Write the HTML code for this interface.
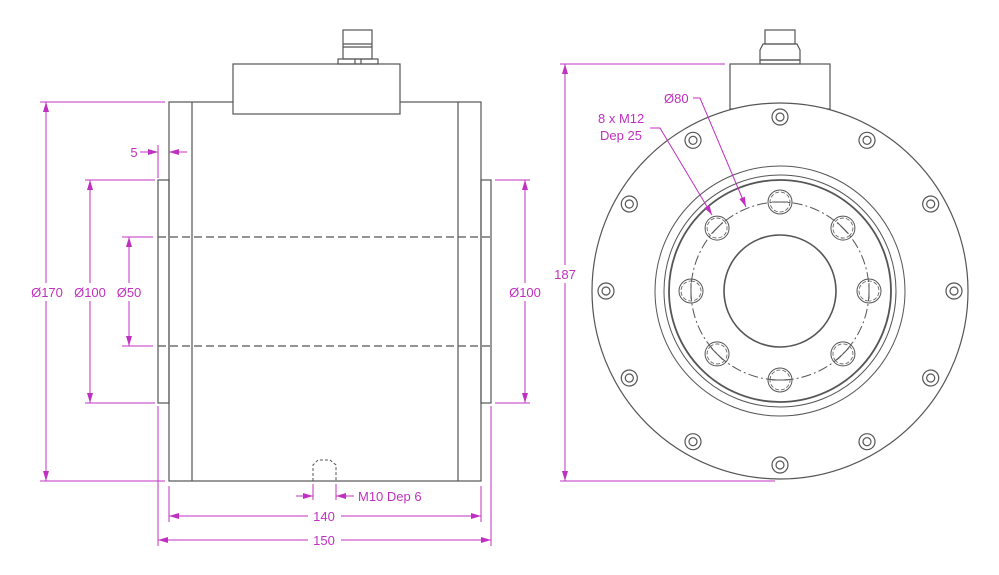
<!DOCTYPE html>
<html><head><style>
html,body{margin:0;padding:0;background:#fff;width:999px;height:575px;overflow:hidden}
text{font-family:"Liberation Sans",sans-serif;font-size:13px;fill:#c030c0}
</style></head><body>
<svg width="999" height="575" viewBox="0 0 999 575" xmlns="http://www.w3.org/2000/svg">
<defs>
<marker id="a" viewBox="0 0 10 6" refX="10" refY="3" markerWidth="10" markerHeight="6" orient="auto-start-reverse" markerUnits="userSpaceOnUse"><path d="M0,0L10,3L0,6z" fill="#c030c0"/></marker>
</defs>
<g fill="none" stroke="#555" stroke-width="1.2">
<rect x="169" y="102" width="312" height="379"/>
<line x1="192" y1="102" x2="192" y2="481"/>
<line x1="458" y1="102" x2="458" y2="481"/>
<rect x="233" y="64" width="167" height="50" fill="#fff"/>
<rect x="343" y="30" width="29" height="29"/>
<line x1="343" y1="44" x2="372" y2="44"/><line x1="343" y1="47" x2="372" y2="47"/>
<rect x="338" y="59" width="40" height="5"/>
<line x1="355" y1="59" x2="355" y2="64"/><line x1="361" y1="59" x2="361" y2="64"/>
<rect x="158" y="180" width="11" height="223"/>
<rect x="481" y="180" width="10" height="223"/>
<line x1="158" y1="237" x2="491" y2="237" stroke-dasharray="8,4"/>
<line x1="158" y1="346" x2="491" y2="346" stroke-dasharray="8,4"/>
<path d="M313,481V465L318,460H330L336,465V481" stroke-dasharray="3,2" stroke-width="1"/>
<rect x="730" y="64" width="100" height="45" fill="#fff"/>
<rect x="765" y="30" width="30" height="14"/>
<path d="M763,44H797L800,50V60H760V50Z"/>
<rect x="760" y="60" width="40" height="4"/>
<circle cx="780" cy="291" r="188" fill="#fff"/>
<circle cx="780" cy="291" r="125" stroke-width="1"/>
<circle cx="780" cy="291" r="116" stroke-width="1"/>
<circle cx="780" cy="291" r="111" stroke-width="1.8"/>
<circle cx="780" cy="291" r="56" stroke-width="1.6"/>
<circle cx="780" cy="291" r="89" stroke-width="1" stroke-dasharray="10,3,2,3"/>
<g id="oh">
<circle cx="780" cy="117" r="8"/><circle cx="780" cy="117" r="4"/>
</g>
<use href="#oh" transform="rotate(30 780 291)"/><use href="#oh" transform="rotate(60 780 291)"/>
<use href="#oh" transform="rotate(90 780 291)"/><use href="#oh" transform="rotate(120 780 291)"/>
<use href="#oh" transform="rotate(150 780 291)"/><use href="#oh" transform="rotate(180 780 291)"/>
<use href="#oh" transform="rotate(210 780 291)"/><use href="#oh" transform="rotate(240 780 291)"/>
<use href="#oh" transform="rotate(270 780 291)"/><use href="#oh" transform="rotate(300 780 291)"/>
<use href="#oh" transform="rotate(330 780 291)"/>
<g id="ih"><circle cx="780" cy="202" r="12" stroke-width="1"/><circle cx="780" cy="202" r="10" stroke-width="0.8" stroke-dasharray="4,2"/><line x1="772" y1="202" x2="788" y2="202" stroke-width="1"/></g>
<use href="#ih" transform="rotate(45 780 291)"/><use href="#ih" transform="rotate(90 780 291)"/>
<use href="#ih" transform="rotate(135 780 291)"/><use href="#ih" transform="rotate(180 780 291)"/>
<use href="#ih" transform="rotate(225 780 291)"/><use href="#ih" transform="rotate(270 780 291)"/>
<use href="#ih" transform="rotate(315 780 291)"/>
</g>
<g stroke="#c030c0" stroke-width="1" fill="none">
<line x1="40" y1="102" x2="165" y2="102"/><line x1="40" y1="481" x2="165" y2="481"/>
<line x1="85" y1="180" x2="155" y2="180"/><line x1="85" y1="403" x2="155" y2="403"/>
<line x1="122" y1="237" x2="153" y2="237"/><line x1="122" y1="346" x2="153" y2="346"/>
<line x1="46" y1="102" x2="46" y2="283" marker-start="url(#a)"/><line x1="46" y1="301" x2="46" y2="481" marker-end="url(#a)"/>
<line x1="90" y1="180" x2="90" y2="283" marker-start="url(#a)"/><line x1="90" y1="301" x2="90" y2="403" marker-end="url(#a)"/>
<line x1="129" y1="237" x2="129" y2="283" marker-start="url(#a)"/><line x1="129" y1="301" x2="129" y2="346" marker-end="url(#a)"/>
<line x1="158" y1="145" x2="158" y2="178"/>
<line x1="140" y1="152" x2="158" y2="152" marker-end="url(#a)"/>
<line x1="187" y1="152" x2="169" y2="152" marker-end="url(#a)"/>
<line x1="495" y1="180" x2="530" y2="180"/><line x1="495" y1="403" x2="530" y2="403"/>
<line x1="525" y1="180" x2="525" y2="283" marker-start="url(#a)"/><line x1="525" y1="301" x2="525" y2="403" marker-end="url(#a)"/>
<line x1="169" y1="486" x2="169" y2="522"/><line x1="481" y1="486" x2="481" y2="522"/>
<line x1="158" y1="406" x2="158" y2="546"/><line x1="491" y1="406" x2="491" y2="546"/>
<line x1="313" y1="484" x2="313" y2="500"/><line x1="336" y1="484" x2="336" y2="500"/>
<line x1="296" y1="496" x2="313" y2="496" marker-end="url(#a)"/>
<line x1="354" y1="496" x2="336" y2="496" marker-end="url(#a)"/>
<line x1="169" y1="516" x2="308" y2="516" marker-start="url(#a)"/><line x1="341" y1="516" x2="481" y2="516" marker-end="url(#a)"/>
<line x1="158" y1="540" x2="308" y2="540" marker-start="url(#a)"/><line x1="341" y1="540" x2="491" y2="540" marker-end="url(#a)"/>
<line x1="560" y1="64" x2="725" y2="64"/><line x1="560" y1="481" x2="775" y2="481"/>
<line x1="565" y1="64" x2="565" y2="265" marker-start="url(#a)"/><line x1="565" y1="283" x2="565" y2="481" marker-end="url(#a)"/>
<path d="M693,98H700L746,207" marker-end="url(#a)"/>
<path d="M650,128H660L712,215" marker-end="url(#a)"/>
</g>
<rect x="28" y="283" width="118" height="18" fill="#fff"/>
<text x="47" y="297" text-anchor="middle">Ø170</text>
<text x="90" y="297" text-anchor="middle">Ø100</text>
<text x="129" y="297" text-anchor="middle">Ø50</text>
<text x="134" y="157" text-anchor="middle">5</text>
<text x="525" y="297" text-anchor="middle">Ø100</text>
<text x="358" y="501">M10 Dep 6</text>
<text x="324" y="521" text-anchor="middle">140</text>
<text x="324" y="545" text-anchor="middle">150</text>
<text x="565" y="279" text-anchor="middle">187</text>
<text x="664" y="103">Ø80</text>
<text x="598" y="123">8 x M12</text>
<text x="600" y="140">Dep 25</text>
</svg>
</body></html>
